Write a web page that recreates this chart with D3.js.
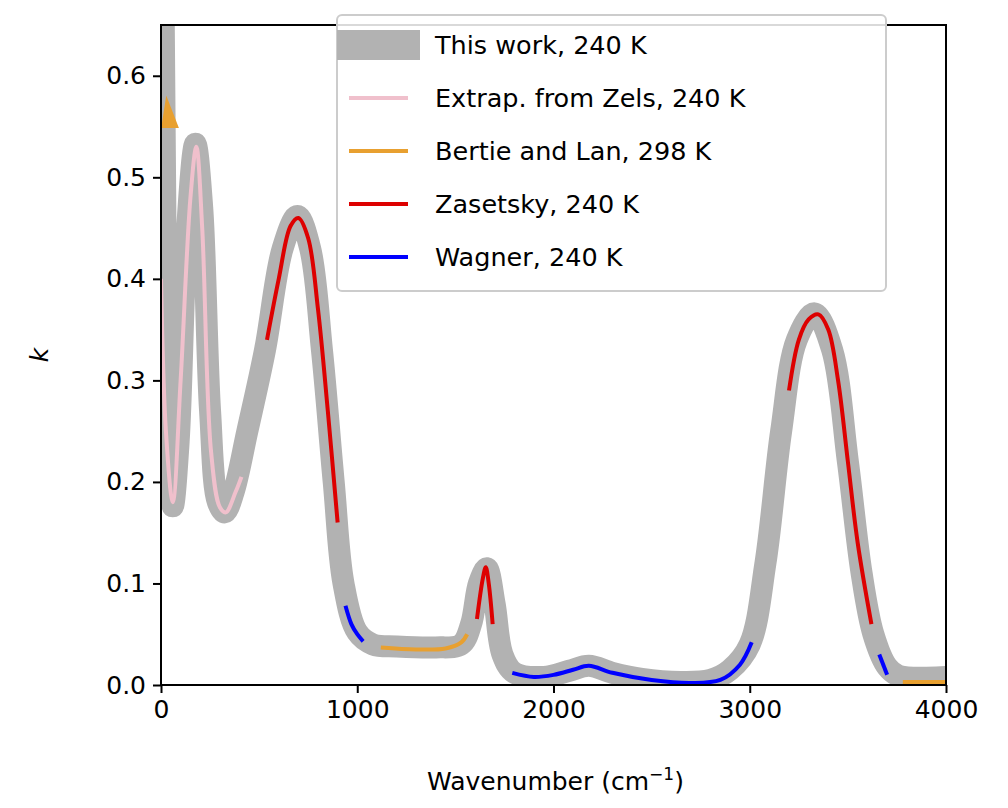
<!DOCTYPE html>
<html><head><meta charset="utf-8">
<script src="https://cdn.jsdelivr.net/npm/d3@7"></script>
<style>body{margin:0;background:#fff}text{font-family:"DejaVu Sans",sans-serif}</style>
</head><body><svg width="1008" height="808"></svg>
<script>
// wavenumber (cm-1), k
var thisWork = [[0,1.2],[12,0.7],[25,0.4],[40,0.22],[60,0.176],[90,0.24],[130,0.44],[175,0.533],[210,0.47],[250,0.27],[290,0.18],[325,0.17],[370,0.19],[440,0.25],[530,0.33],[620,0.43],[695,0.462],[760,0.43],[820,0.33],[880,0.2],[930,0.1],[1000,0.052],[1080,0.04],[1200,0.038],[1400,0.037],[1530,0.04],[1580,0.06],[1620,0.1],[1660,0.115],[1700,0.08],[1740,0.03],[1800,0.012],[1950,0.008],[2080,0.014],[2180,0.019],[2300,0.012],[2450,0.006],[2650,0.003],[2800,0.005],[2900,0.015],[3000,0.04],[3080,0.12],[3160,0.25],[3240,0.34],[3330,0.366],[3420,0.33],[3500,0.22],[3570,0.11],[3630,0.05],[3700,0.018],[3760,0.009],[4000,0.008]];
var zels = [[0,0.40],[25,0.25],[60,0.18],[100,0.3],[150,0.48],[180,0.53],[210,0.45],[255,0.23],[300,0.175],[330,0.17],[380,0.19],[410,0.205]];
var bertieTri = [[10,0.55],[30,0.575],[80,0.55]];
var bertie = [[[1120,0.037],[1300,0.035],[1450,0.036],[1530,0.042],[1560,0.05]],[[3780,0.003],[4000,0.003]]];
var zasetsky = [[[540,0.34],[600,0.40],[660,0.452],[700,0.46],[750,0.44],[800,0.37],[850,0.27],[900,0.16]],[[1610,0.065],[1640,0.105],[1655,0.116],[1670,0.1],[1690,0.06]],[[3200,0.29],[3250,0.34],[3300,0.36],[3350,0.365],[3400,0.35],[3450,0.30],[3500,0.22],[3550,0.14],[3620,0.06]]];
var wagner = [[[940,0.078],[970,0.06],[1000,0.05],[1030,0.043]],[[1790,0.012],[1900,0.008],[2000,0.01],[2100,0.015],[2180,0.019],[2300,0.012],[2500,0.005],[2700,0.002],[2850,0.005],[2950,0.02],[3010,0.042]],[[3660,0.03],[3700,0.01]]];
var xTicks = [0,1000,2000,3000,4000];
var yTicks = [0,0.1,0.2,0.3,0.4,0.5,0.6];
var legendLabels = ["This work, 240 K","Extrap. from Zels, 240 K","Bertie and Lan, 298 K","Zasetsky, 240 K","Wagner, 240 K"];
var colors = ["#b2b2b2","#f0c0cc","#e8a030","#dd0000","#0000ff"];

var svg = d3.select("svg");
var L=161,R=946,T=25,B=685;
var x = d3.scaleLinear().domain([0,4000]).range([L,R]);
var y = d3.scaleLinear().domain([0,0.65]).range([B,T]);
svg.append("clipPath").attr("id","c").append("rect").attr("x",L).attr("y",T).attr("width",R-L).attr("height",B-T);
var line = d3.line().x(function(d){return x(d[0])}).y(function(d){return y(d[1])}).curve(d3.curveCatmullRom);
var g = svg.append("g").attr("clip-path","url(#c)");
g.append("path").attr("d",line(thisWork)).attr("fill","none").attr("stroke",colors[0]).attr("stroke-width",22).attr("stroke-linejoin","round").attr("stroke-linecap","round");
g.append("path").attr("d",line(zels)).attr("fill","none").attr("stroke",colors[1]).attr("stroke-width",4);
g.append("path").attr("d",d3.line().x(function(d){return x(d[0])}).y(function(d){return y(d[1])})(bertieTri)+"Z").attr("fill",colors[2]).attr("stroke",colors[2]).attr("stroke-width",3);
[bertie,zasetsky,wagner].forEach(function(s,i){
	s.forEach(function(seg){
		g.append("path").attr("d",line(seg)).attr("fill","none").attr("stroke",colors[i+2]).attr("stroke-width",4);
	});
});
svg.append("rect").attr("x",L).attr("y",T).attr("width",R-L).attr("height",B-T).attr("fill","none").attr("stroke","#000").attr("stroke-width",2);
var xa = svg.append("g").attr("transform","translate(0,"+B+")").call(d3.axisBottom(x).tickValues(xTicks).tickFormat(d3.format("d")).tickSize(8).tickPadding(7));
var ya = svg.append("g").attr("transform","translate("+L+",0)").call(d3.axisLeft(y).tickValues(yTicks).tickFormat(d3.format(".1f")).tickSize(8).tickPadding(7));
[xa,ya].forEach(function(a){a.select(".domain").remove();a.selectAll("line").attr("stroke-width",2);a.selectAll("text").style("font-size","25px").style("font-family","DejaVu Sans").attr("fill","#000");});
svg.append("text").attr("x",(L+R)/2+2).attr("y",790).attr("text-anchor","middle").style("font-size","25px").html('Wavenumber (cm<tspan dy="-10" font-size="17">−1</tspan><tspan dy="10">)</tspan>');
svg.append("text").attr("transform","translate(48,355)rotate(-90)").attr("text-anchor","middle").style("font-size","25px").style("font-style","italic").text("k");
// legend
var lg = svg.append("g");
lg.append("rect").attr("x",337).attr("y",15).attr("width",549).attr("height",276).attr("rx",5).attr("fill","#fff").attr("fill-opacity",0.85).attr("stroke","#ccc").attr("stroke-width",2);
legendLabels.forEach(function(t,i){
	var yy = 45+i*53;
	lg.append("line").attr("x1",i==0?337:349).attr("x2",i==0?420:408).attr("y1",yy).attr("y2",yy).attr("stroke",colors[i]).attr("stroke-width",i==0?30:4);
	lg.append("text").attr("x",435).attr("y",yy+9).style("font-size","25.5px").text(t);
});
</script></body></html>
